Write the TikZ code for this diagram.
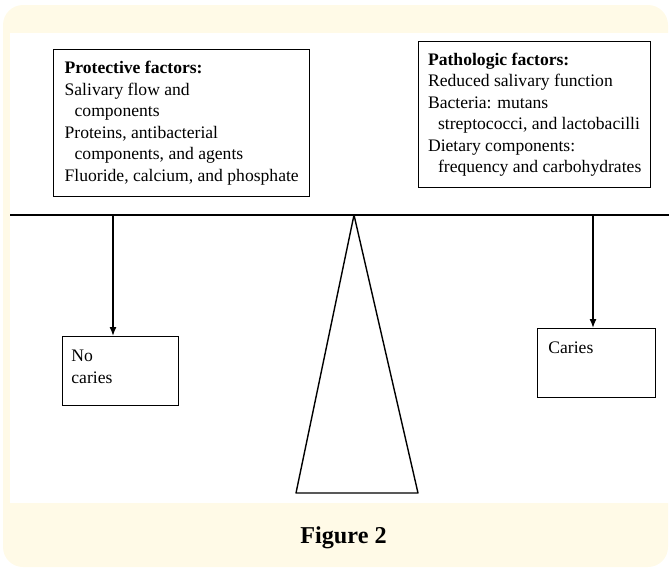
\documentclass[tikz,border=0pt]{standalone}
\usepackage{fontspec}
\setmainfont{Liberation Serif}
\usetikzlibrary{arrows.meta}
\definecolor{cream}{RGB}{255,250,231}
\begin{document}
\begin{tikzpicture}[x=0.5pt,y=-0.5pt,
  txt/.style={font=\fontsize{8.8}{10.75}\selectfont, align=left},
  factorbox/.style={draw, line width=0.7pt, anchor=north west, txt, inner xsep=0pt, inner ysep=0pt},
  outbox/.style={draw, line width=0.7pt, anchor=north west, minimum height=34.5pt, inner sep=0pt},
  linkarrow/.style={line width=0.7pt, -{Latex[length=4.5pt,width=3.5pt]}},
  beamline/.style={line width=0.8pt},
  fulcrum/.style={line width=0.7pt, line join=round}
]
\useasboundingbox (0,0) rectangle (669,569);
\fill[cream, rounded corners=10pt] (3,5) rectangle (668,567);
\fill[white] (10,33) rectangle (669,503);

% factor boxes
\node[factorbox, minimum width=128pt, minimum height=73.5pt] (prot) at (53,49)
  {\textbf{Protective factors:}\\
   Salivary flow and\\
   \hspace*{5pt}components\\
   Proteins, antibacterial\\
   \hspace*{5pt}components, and agents\\
   Fluoride, calcium, and phosphate};
\node[factorbox, minimum width=116pt, minimum height=73pt] (path) at (418,41)
  {\textbf{Pathologic factors:}\\
   Reduced salivary function\\
   Bacteria: mutans\\
   \hspace*{5pt}streptococci, and lactobacilli\\
   Dietary components:\\
   \hspace*{5pt}frequency and carbohydrates};

% beam
\coordinate (beamL) at (10,215);
\coordinate (beamR) at (669,215);
\draw[beamline] (beamL) -- (beamR);

% fulcrum
\coordinate (apex) at (354,215);
\coordinate (baseL) at (296,493);
\coordinate (baseR) at (418,493);
\draw[fulcrum] (apex) -- (baseR) -- (baseL) -- cycle;

% outcome boxes
\node[outbox, minimum width=58pt] (nocar) at (62,336) {};
\node[outbox, minimum width=59pt] (car) at (537,328) {};
\node[txt, anchor=base west, inner sep=0pt] (nocartxt) at (71,383) {No\\caries};
\node[txt, anchor=base west, inner sep=0pt] (cartxt) at (548,353) {Caries};

% arrows
\coordinate (armL) at (113,215);
\coordinate (armR) at (593,215);
\draw[linkarrow] (armL) -- (armL |- nocar.north);
\draw[linkarrow] (armR) -- (armR |- car.north);

% caption
\node[font=\fontsize{12.1}{14}\selectfont\bfseries, anchor=base, inner sep=0pt] (fig) at (343.5,543) {Figure 2};
\end{tikzpicture}
\end{document}
